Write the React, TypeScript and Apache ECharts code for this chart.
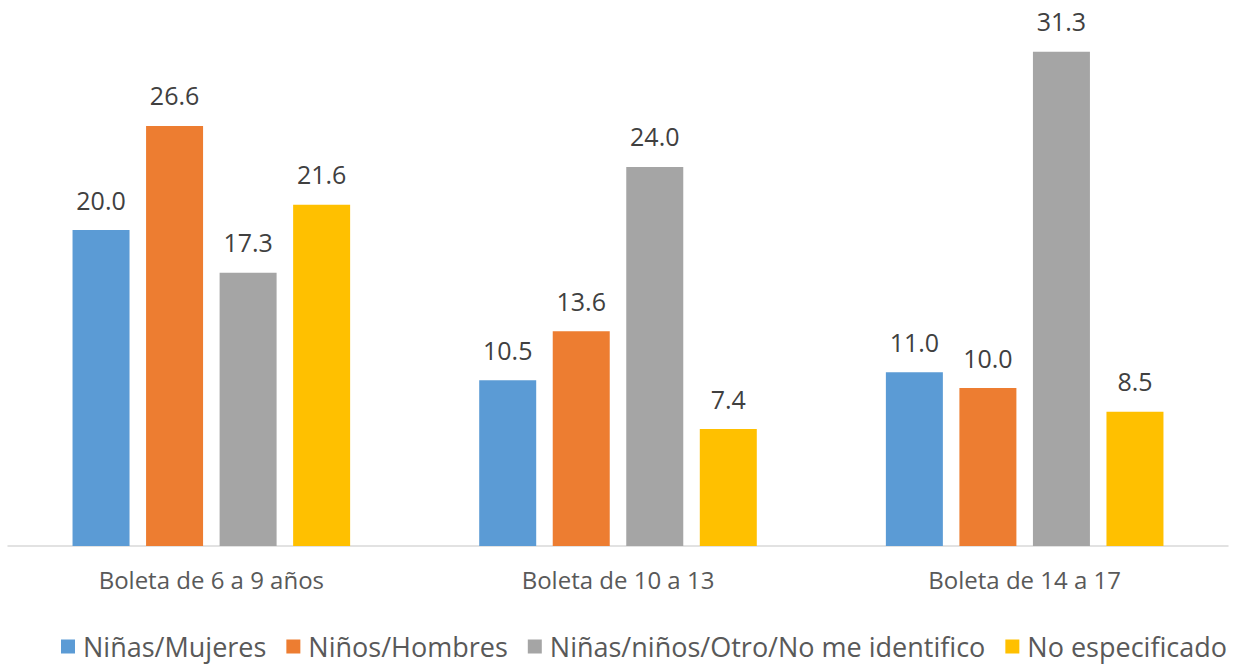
import React, { useEffect, useRef } from "react";
import * as echarts from "echarts";

const categories = ["Boleta de 6 a 9 años", "Boleta de 10 a 13", "Boleta de 14 a 17"];
const seriesNames = ["Niñas/Mujeres", "Niños/Hombres", "Niñas/niños/Otro/No me identifico", "No especificado"];
const mujeres = [20.0, 10.5, 11.0];
const hombres = [26.6, 13.6, 10.0];
const otro = [17.3, 24.0, 31.3];
const noEspecificado = [21.6, 7.4, 8.5];
const colors = ["#5B9BD5", "#ED7D31", "#A5A5A5", "#FFC000"];

export default function App() {
  const ref = useRef<HTMLDivElement>(null);
  useEffect(() => {
    const chart = echarts.init(ref.current!, null, { renderer: "svg" });
    const values = [mujeres, hombres, otro, noEspecificado];
    const font = "'Open Sans', 'Noto Sans', sans-serif";
    chart.setOption({
      animation: false,
      textStyle: { fontFamily: font },
      grid: { left: 8, right: 8, top: 9, bottom: 119 },
      legend: {
        bottom: 0,
        left: 56,
        itemWidth: 14,
        itemHeight: 14,
        itemGap: 20,
        icon: "rect",
        textStyle: { fontSize: 27, color: "#595959", fontFamily: font, padding: [0, 0, 0, 3] },
        data: seriesNames,
      },
      xAxis: {
        type: "category",
        data: categories,
        axisLine: { lineStyle: { color: "#D9D9D9", width: 1.5 } },
        axisTick: { show: false },
        axisLabel: { fontSize: 24, color: "#595959", margin: 21, fontFamily: font },
      },
      yAxis: {
        type: "value",
        min: 0,
        max: 34,
        show: false,
        splitLine: { show: false },
      },
      series: values.map((v, i) => ({
        name: seriesNames[i],
        type: "bar",
        data: v,
        barWidth: 57,
        barGap: "29%",
        itemStyle: { color: colors[i] },
        label: {
          show: true,
          position: "top",
          distance: 18,
          fontSize: 25,
          color: "#404040",
          fontFamily: font,
          formatter: (p: any) => p.value.toFixed(1),
        },
      })),
    });
    return () => chart.dispose();
  }, []);
  return <div ref={ref} style={{ position: "fixed", left: 0, top: 0, width: 1236, height: 665, background: "#fff" }} />;
}
